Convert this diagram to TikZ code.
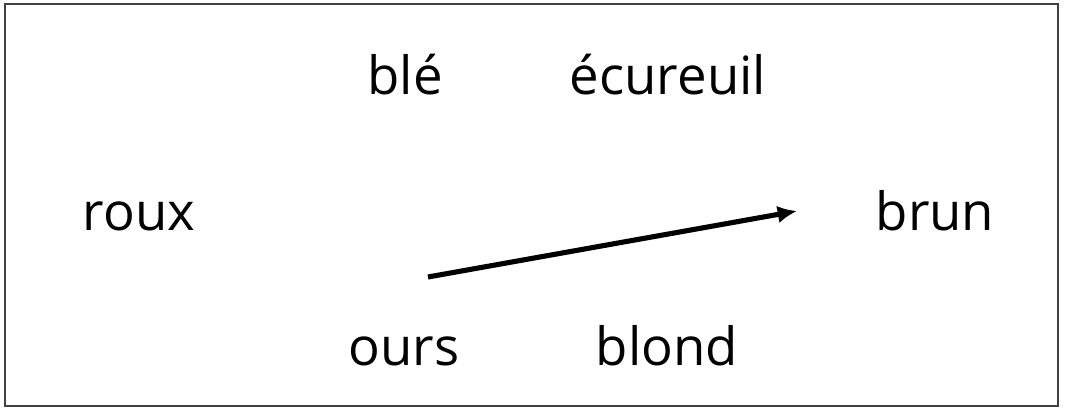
\documentclass[tikz,border=0pt]{standalone}
\usepackage{fontspec}
\setmainfont{Open Sans}
\usetikzlibrary{arrows.meta}
\tikzset{
  word/.style={
    anchor=base, inner sep=0pt,
    font=\fontsize{30}{36}\selectfont
  },
  frame/.style={draw=black!75, line width=0.9pt},
  arr/.style={-{Latex[length=11pt,width=10pt]}, line width=2.9pt}
}
\begin{document}
\begin{tikzpicture}

    %% ---- page size and frame ---------------------------------------
    \useasboundingbox (0,0) rectangle (21.3,8.22);
    \draw[frame] (0.1,0.1) rectangle (21.16,8.14);

    %% ---- top row -----------------------------------------------------
    \node[word] (ble)      at (8.1,6.32)   {blé};
    \node[word] (ecureuil) at (13.36,6.32) {écureuil};

    %% ---- middle row --------------------------------------------------
    \node[word] (roux) at (2.78,3.62) {roux};
    \node[word] (brun) at (18.7,3.62) {brun};

    %% ---- bottom row --------------------------------------------------
    \node[word] (ours)  at (8.08,0.92)  {ours};
    \node[word] (blond) at (13.34,0.92) {blond};

    %% ---- the arrow ---------------------------------------------------
    \coordinate (tail) at (8.56,2.68);
    \coordinate (head) at (15.94,4.0);
    \draw[arr] (tail) -- (head);

\end{tikzpicture}
\end{document}
